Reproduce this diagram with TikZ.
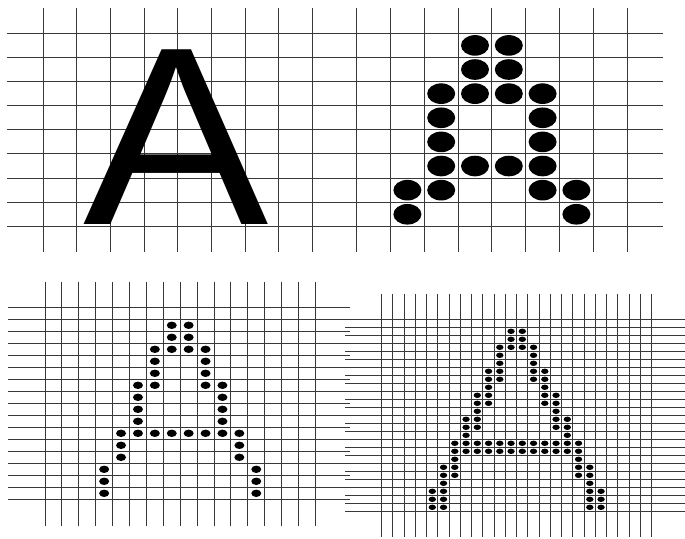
\documentclass[tikz,border=0pt]{standalone}
\usepackage{fontspec}
\setmainfont{Liberation Sans}
\usepackage{tikz}

\begin{document}
\begin{tikzpicture}[x=1pt, y=-1pt,
  gridline/.style={draw=black!78, line width=1pt},
  glyph/.style={font=\fontsize{254}{254}\selectfont, inner sep=0pt, anchor=base, xscale=1.094},
  dotL/.style={x radius=14, y radius=10.3},
  dotM/.style={x radius=5, y radius=3.7},
  dotS/.style={x radius=3.7, y radius=2.7}
]
  \useasboundingbox (0,0) rectangle (685,538);

  % top: letter and coarse dot matrix
  \foreach \k in {0,...,8}
    \draw[gridline] (7,{33.3+24.125*\k}) -- (663,{33.3+24.125*\k});
  \foreach \k in {0,...,8} {
    \draw[gridline] ({43.3+33.67*\k},8.3) -- ({43.3+33.67*\k},252);
    \draw[gridline] ({356.7+33.8*\k},8.3) -- ({356.7+33.8*\k},252);
  }
  \node[glyph] (letterA) at (176,224) {A};
  \foreach \r/\cs in {0/{3,4},1/{3,4},2/{2,3,4,5},3/{2,5},4/{2,5},5/{2,3,4,5},6/{1,2,5,6},7/{1,6}}
    \foreach \c in \cs
      \fill ({373.6+33.8*\c},{45.4+24.125*\r}) ellipse[dotL];

  % bottom left: finer grid
  \foreach \k in {0,...,16} {
    \draw[gridline] (8.3,{307.3+12*\k}) -- (350,{307.3+12*\k});
    \draw[gridline] ({45+16.9*\k},282.3) -- ({45+16.9*\k},526);
  }
  \foreach \r/\cs in {1/{7,8},2/{7,8},3/{6,7,8,9},4/{6,9},5/{6,9},6/{5,6,9,10},7/{5,10},8/{5,10},9/{5,10},
                      10/{4,5,6,7,8,9,10,11},11/{4,11},12/{4,11},13/{3,12},14/{3,12},15/{3,12}}
    \foreach \c in \cs
      \fill ({53.45+16.9*\c},{313.3+12*\r}) ellipse[dotM];

  % bottom right: finest grid
  \foreach \k in {0,...,24} {
    \draw[gridline] (345,{319.3+8*\k}) -- (685,{319.3+8*\k});
    \draw[gridline] ({381.7+11.25*\k},294) -- ({381.7+11.25*\k},536.7);
  }
  \foreach \r/\cs in {1/{11,12},2/{11,12},3/{10,11,12,13},4/{10,13},5/{10,13},6/{9,10,13,14},7/{9,10,13,14},
                      8/{9,14},9/{8,9,14,15},10/{8,9,14,15},11/{8,15},12/{7,8,15,16},13/{7,8,15,16},14/{7,16},
                      15/{6,7,8,9,10,11,12,13,14,15,16,17},16/{6,7,8,9,10,11,12,13,14,15,16,17},17/{6,17},
                      18/{5,6,17,18},19/{5,6,17,18},20/{5,18},21/{4,5,18,19},22/{4,5,18,19},23/{4,5,18,19}}
    \foreach \c in \cs
      \fill ({387.3+11.25*\c},{323.3+8*\r}) ellipse[dotS];
\end{tikzpicture}
\end{document}
